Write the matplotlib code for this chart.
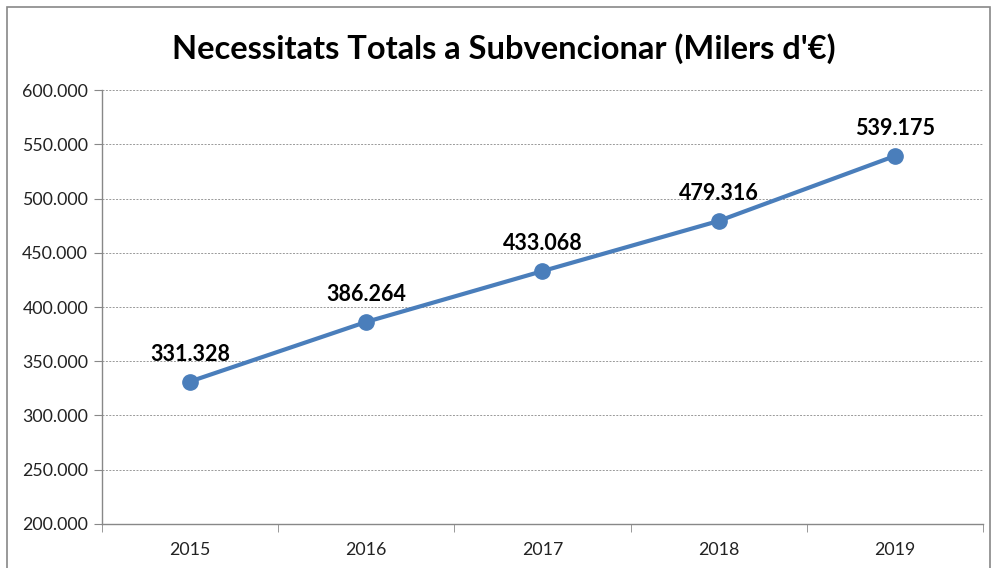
import matplotlib
matplotlib.use("Agg")
import matplotlib.pyplot as plt
from matplotlib.patches import Rectangle
from matplotlib.ticker import FuncFormatter, FixedLocator

years = ["2015", "2016", "2017", "2018", "2019"]
values = [331328, 386264, 433068, 479316, 539175]
title = "Necessitats Totals a Subvencionar (Milers d'€)"

plt.rcParams.update({"font.family": ["Lato", "DejaVu Sans"]})

fig = plt.figure(figsize=(9.92, 5.68), dpi=100)
ax = fig.add_axes([0.1028, 0.0775, 0.888, 0.764])

x = list(range(len(years)))
ax.plot(x, values, color="#4a7ebb", linewidth=3, marker="o", markersize=11,
        markerfacecolor="#4a7ebb", markeredgecolor="#4a7ebb", zorder=3)
for xi, v in zip(x, values):
    ax.annotate(f"{v:,}".replace(",", "."), (xi, v), xytext=(0, 12),
                textcoords="offset points", ha="center", va="bottom",
                fontsize=15.5, fontweight="bold", color="black")

ax.set_xlim(-0.5, len(years) - 0.5)
ax.set_ylim(200000, 600000)
ax.set_yticks(range(200000, 600001, 50000))
ax.yaxis.set_major_formatter(FuncFormatter(lambda v, p: f"{int(v):,}".replace(",", ".")))
ax.set_xticks(x)
ax.set_xticklabels(years)
ax.xaxis.set_minor_locator(FixedLocator([i - 0.5 for i in range(len(years) + 1)]))
ax.tick_params(axis="x", which="major", length=0, pad=13, labelsize=12.8, colors="#222222")
ax.tick_params(axis="x", which="minor", length=6, color="#888888")
ax.tick_params(axis="y", length=6, color="#888888", labelsize=12.8, labelcolor="#222222", pad=4)
ax.grid(axis="y", linestyle=(0, (2, 1.5)), color="#999999", linewidth=0.7)
ax.set_axisbelow(True)
for s in ["top", "right"]:
    ax.spines[s].set_visible(False)
for s in ["left", "bottom"]:
    ax.spines[s].set_color("#888888")
    ax.spines[s].set_linewidth(1)

fig.text(0.508, 0.915, title, ha="center", va="center", fontsize=23.5, fontweight="bold")

fig.patches.append(Rectangle((7 / 992, -0.05), 983 / 992, 1 - 7 / 568 + 0.05,
                             transform=fig.transFigure, fill=False,
                             edgecolor="#888888", linewidth=1.2))

fig.savefig("out.png", dpi=100)
